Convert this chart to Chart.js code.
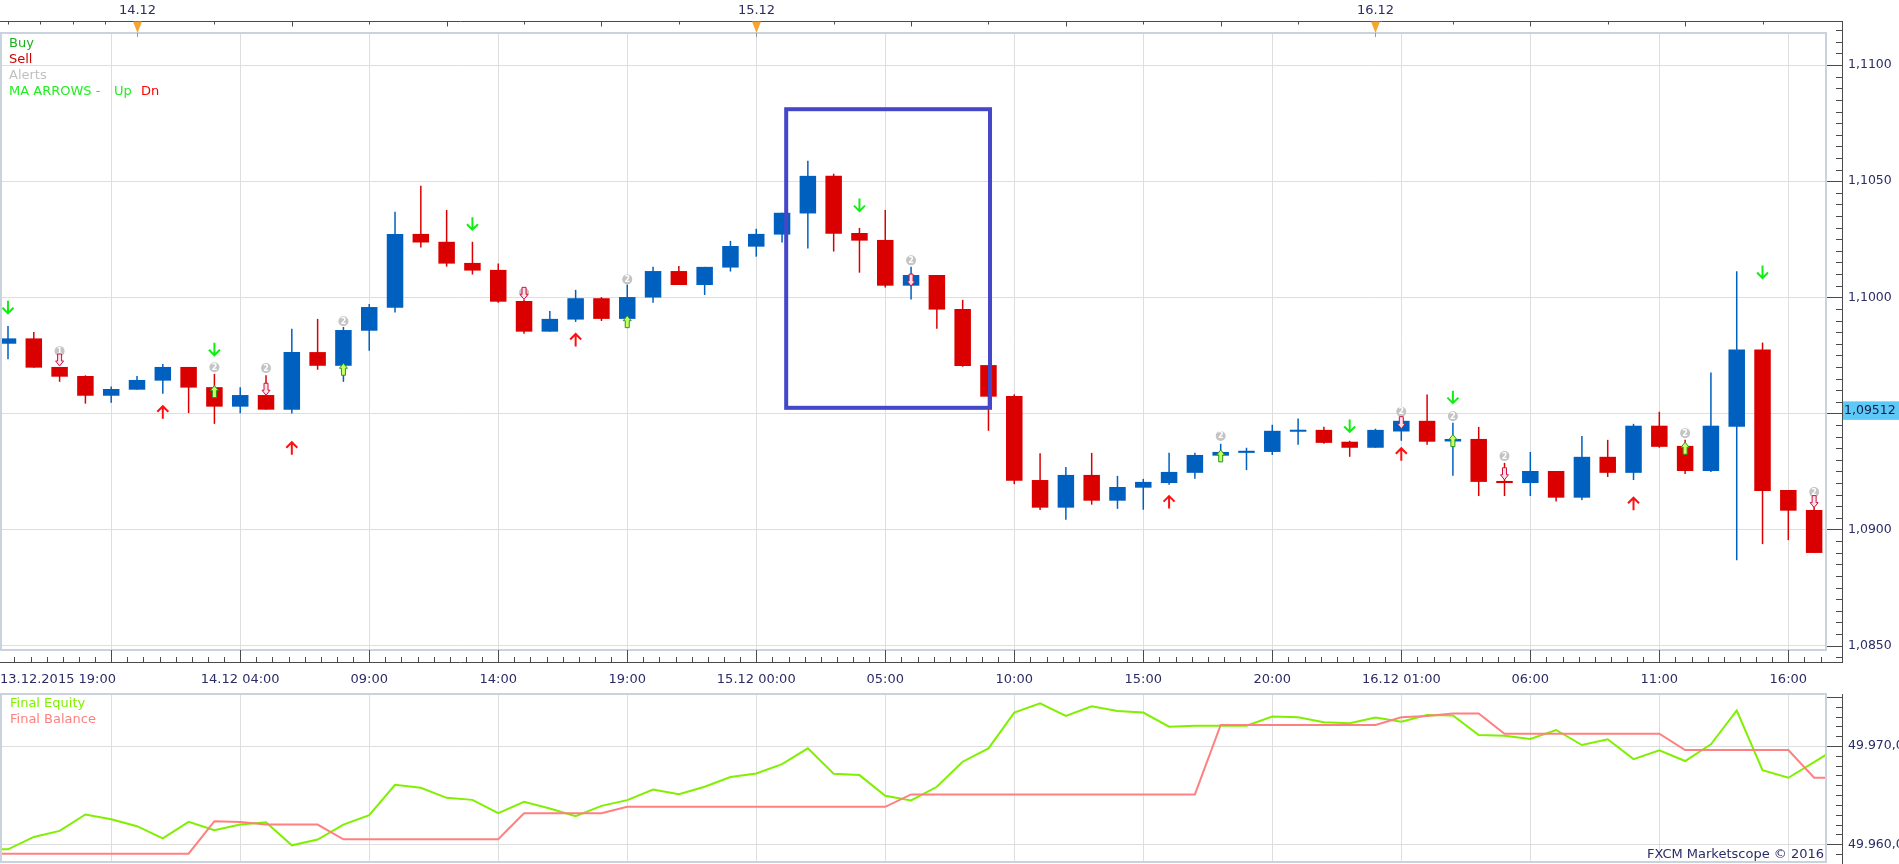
<!DOCTYPE html>
<html>
<head>
<meta charset="utf-8">
<title>EUR/USD H1 - MA ARROWS</title>
<script src="https://cdn.jsdelivr.net/npm/chart.js@4.4.1/dist/chart.umd.min.js"></script>
<style>
  html, body { margin: 0; padding: 0; background: #fff; overflow: hidden; }
  #wrap { position: relative; width: 1899px; height: 864px; font-family: 'DejaVu Sans', sans-serif; }
  #price-chart { position: absolute; left: 0; top: 0; }
  #equity-chart { position: absolute; left: 0; top: 693px; }
  .lbl { position: absolute; font-size: 13px; line-height: 16px; white-space: nowrap; }
</style>
</head>
<body>
<div id="wrap">
  <canvas id="price-chart" width="1899" height="693"></canvas>
  <canvas id="equity-chart" width="1899" height="171"></canvas>
  <div class="lbl" style="left:9px;top:35px;color:#1fae1f">Buy</div>
  <div class="lbl" style="left:9px;top:51px;color:#cc0000">Sell</div>
  <div class="lbl" style="left:9px;top:67px;color:#c0c0c0">Alerts</div>
  <div class="lbl" style="left:9px;top:83px;color:#22ee22">MA ARROWS -</div>
  <div class="lbl" style="left:114px;top:83px;color:#22ee22">Up</div>
  <div class="lbl" style="left:141px;top:83px;color:#ff0000">Dn</div>
  <div class="lbl" style="left:10px;top:695px;color:#80f000">Final Equity</div>
  <div class="lbl" style="left:10px;top:711px;color:#ff8080">Final Balance</div>
  <div class="lbl" style="right:75px;top:846px;color:#2c2c66">FXCM Marketscope &copy; 2016</div>
</div>
<script>
/* EUR/USD hourly candles with MA ARROWS signals, plus equity / balance panel */

// hours are counted from 15.12 00:00; first candle is 13.12.2015 19:00
const CANDLE_START = -29;
const OPEN = [
  1.09800, 1.09823, 1.09700, 1.09661, 1.09576, 1.09602, 1.09641, 1.09700, 1.09613, 1.09529,
  1.09579, 1.09516, 1.09764, 1.09705, 1.09856, 1.09955, 1.10273, 1.10239, 1.10148, 1.10118,
  1.09984, 1.09852, 1.09904, 1.09996, 1.09907, 1.09999, 1.10113, 1.10053, 1.10128, 1.10218,
  1.10270, 1.10361, 1.10523, 1.10277, 1.10247, 1.10050, 1.10096, 1.09950, 1.09708, 1.09575,
  1.09213, 1.09094, 1.09235, 1.09124, 1.09180, 1.09200, 1.09244, 1.09318, 1.09330, 1.09334,
  1.09421, 1.09429, 1.09378, 1.09352, 1.09422, 1.09468, 1.09379, 1.09390, 1.09209, 1.09200,
  1.09252, 1.09137, 1.09313, 1.09244, 1.09447, 1.09360, 1.09252, 1.09442, 1.09775, 1.09170,
  1.09084
];
const HIGH = [
  1.09876, 1.09851, 1.09700, 1.09664, 1.09616, 1.09661, 1.09713, 1.09700, 1.09670, 1.09613,
  1.09664, 1.09864, 1.09907, 1.09872, 1.09971, 1.10368, 1.10480, 1.10376, 1.10239, 1.10145,
  1.09991, 1.09941, 1.10032, 1.10001, 1.10055, 1.10131, 1.10135, 1.10131, 1.10243, 1.10295,
  1.10364, 1.10588, 1.10532, 1.10299, 1.10376, 1.10131, 1.10096, 1.09989, 1.09708, 1.09582,
  1.09328, 1.09269, 1.09330, 1.09231, 1.09218, 1.09330, 1.09330, 1.09369, 1.09352, 1.09451,
  1.09478, 1.09442, 1.09382, 1.09434, 1.09468, 1.09581, 1.09460, 1.09442, 1.09287, 1.09334,
  1.09252, 1.09403, 1.09386, 1.09455, 1.09507, 1.09386, 1.09676, 1.10112, 1.09805, 1.09170,
  1.09130
];
const LOW = [
  1.09733, 1.09697, 1.09636, 1.09542, 1.09546, 1.09602, 1.09585, 1.09501, 1.09455, 1.09501,
  1.09516, 1.09499, 1.09688, 1.09636, 1.09770, 1.09934, 1.10214, 1.10132, 1.10098, 1.09977,
  1.09843, 1.09852, 1.09894, 1.09898, 1.09907, 1.09977, 1.10053, 1.10010, 1.10111, 1.10175,
  1.10236, 1.10210, 1.10197, 1.10106, 1.10042, 1.09990, 1.09865, 1.09701, 1.09425, 1.09195,
  1.09084, 1.09042, 1.09107, 1.09089, 1.09085, 1.09193, 1.09218, 1.09312, 1.09256, 1.09321,
  1.09365, 1.09369, 1.09313, 1.09352, 1.09382, 1.09365, 1.09231, 1.09144, 1.09144, 1.09144,
  1.09120, 1.09127, 1.09226, 1.09213, 1.09352, 1.09239, 1.09248, 1.08867, 1.08937, 1.08954,
  1.08899
];
const CLOSE = [
  1.09823, 1.09697, 1.09658, 1.09576, 1.09605, 1.09644, 1.09700, 1.09611, 1.09529, 1.09579,
  1.09516, 1.09764, 1.09705, 1.09859, 1.09958, 1.10273, 1.10236, 1.10145, 1.10115, 1.09981,
  1.09852, 1.09907, 1.09996, 1.09907, 1.10001, 1.10113, 1.10053, 1.10131, 1.10221, 1.10273,
  1.10364, 1.10523, 1.10274, 1.10244, 1.10050, 1.10096, 1.09947, 1.09704, 1.09572, 1.09210,
  1.09094, 1.09235, 1.09124, 1.09183, 1.09205, 1.09248, 1.09321, 1.09334, 1.09339, 1.09425,
  1.09429, 1.09373, 1.09352, 1.09429, 1.09468, 1.09378, 1.09390, 1.09205, 1.09200, 1.09252,
  1.09137, 1.09313, 1.09244, 1.09447, 1.09356, 1.09252, 1.09447, 1.09775, 1.09166, 1.09081,
  1.08899
];
const LAST_PRICE = 1.09512;

// equity panel runs one hour past each end of the candles (clipped at the frame)
const EQ_START = -30;
const EQUITY = [
  49959.49, 49959.49, 49960.75, 49961.36, 49963.03, 49962.55, 49961.84, 49960.61, 49962.28, 49961.43,
  49962.01, 49962.24, 49959.90, 49960.48, 49962.01, 49962.96, 49966.05, 49965.75, 49964.73, 49964.52,
  49963.16, 49964.32, 49963.64, 49962.86, 49963.91, 49964.49, 49965.58, 49965.10, 49965.85, 49966.84,
  49967.21, 49968.16, 49969.76, 49967.18, 49967.04, 49964.93, 49964.46, 49965.85, 49968.40, 49969.76,
  49973.40, 49974.35, 49973.06, 49974.05, 49973.57, 49973.40, 49971.97, 49972.07, 49972.07, 49972.07,
  49972.99, 49972.93, 49972.41, 49972.31, 49972.89, 49972.48, 49973.16, 49973.10, 49971.12, 49971.05,
  49970.71, 49971.63, 49970.10, 49970.68, 49968.67, 49969.56, 49968.47, 49970.17, 49973.61, 49967.55,
  49966.77, 49968.36, 49970.00
];
const BALANCE = [
  49959.05, 49959.05, 49959.05, 49959.05, 49959.05, 49959.05, 49959.05, 49959.05, 49959.05, 49962.35,
  49962.28, 49962.01, 49962.01, 49962.01, 49960.51, 49960.51, 49960.51, 49960.51, 49960.51, 49960.51,
  49960.51, 49963.16, 49963.16, 49963.16, 49963.16, 49963.81, 49963.81, 49963.81, 49963.81, 49963.81,
  49963.81, 49963.81, 49963.81, 49963.81, 49963.81, 49963.81, 49965.07, 49965.07, 49965.07, 49965.07,
  49965.07, 49965.07, 49965.07, 49965.07, 49965.07, 49965.07, 49965.07, 49965.07, 49972.14, 49972.14,
  49972.14, 49972.14, 49972.14, 49972.14, 49972.14, 49972.93, 49973.06, 49973.30, 49973.30, 49971.25,
  49971.25, 49971.25, 49971.25, 49971.25, 49971.25, 49971.25, 49969.59, 49969.59, 49969.59, 49969.59,
  49969.59, 49966.77, 49966.77
];

// MA ARROWS signals: hour, price
const DN_HOURS = [-29, -21, -11, 4, 23, 27, 39];
const DN_PRICES = [1.09957, 1.09776, 1.10317, 1.10397, 1.09446, 1.09570, 1.10109];
const UP_HOURS = [-23, -18, -7, 16, 25, 34];
const UP_PRICES = [1.09505, 1.09350, 1.09816, 1.09118, 1.09324, 1.09111];

// alerts: numbered circle plus a small hollow arrow (1 = up, -1 = down)
const ALERT_HOURS = [-27, -21, -19, -16, -9, -5, 6, 18, 25, 27, 29, 36, 41];
const ALERT_TEXT = ['1', '2', '2', '2', '2', '2', '2', '2', '2', '2', '2', '2', '2'];
const ALERT_PRICES = [1.09768, 1.09699, 1.09695, 1.09897, 1.10020, 1.10077, 1.10159, 1.09403, 1.09507, 1.09488, 1.09316, 1.09415, 1.09161];
const ALERT_DIRS = [-1, 1, -1, 1, -1, 1, -1, 1, -1, 1, -1, 1, -1];
const ALERT_ARROW_PRICES = [1.09730, 1.09594, 1.09604, 1.09690, 1.10017, 1.09895, 1.10074, 1.09317, 1.09460, 1.09383, 1.09240, 1.09350, 1.09120];

// hand-drawn box around the 15.12 morning sell-off
const BOX_HOURS = [1.16, 9.06];
const BOX_PRICES = [1.10810, 1.09524];

// axes
const X_MIN = -29.31, X_MAX = 41.46;
const TICK_HOURS = [X_MIN, -25, -20, -15, -10, -5, 0, 5, 10, 15, 20, 25, 30, 35, 40, X_MAX];
const TICK_LABELS = ['13.12.2015 19:00', '', '14.12 04:00', '09:00', '14:00', '19:00', '15.12 00:00',
  '05:00', '10:00', '15:00', '20:00', '16.12 01:00', '06:00', '11:00', '16:00', ''];
const TOP_TICK_HOURS = [-29, -27.75, -26.5, -25.25, -24, -21, -18, -15, -12, -9, -6, -3, 0, 3, 6, 9,
  12, 15, 18, 21, 24, 27, 30, 33, 36, 39];
const DAY_HOURS = [-24, 0, 24];
const DAY_LABELS = ['14.12', '15.12', '16.12'];
const PRICE_MIN = 1.084810, PRICE_MAX = 1.111382;
const PRICE_TICKS = [1.085, 1.09, 1.095, 1.1, 1.105, 1.11];
const EQ_MIN = 49958.20, EQ_MAX = 49975.29;
const EQ_TICKS = [49960, 49970];

const BLUE = '#0060bf', RED = '#db0000';
const GRID = '#dedede', FRAME = '#c9d3de', AXIS = '#4a4a4a';
const TEXT_COLOR = '#2c2c66';
const EQUITY_COLOR = '#80f000', BALANCE_COLOR = '#ff8080';
const AXIS_X = 1842;
const FONT = '"DejaVu Sans", sans-serif';

function hideBoundGrid(ctx) {
  var v = ctx.tick ? ctx.tick.value : null;
  return (v === X_MIN || v === X_MAX) ? 'rgba(0,0,0,0)' : GRID;
}

// the layout must not add label padding: chart area is pinned by these sizes
function fixHeight(h) {
  return function(s) { s.height = h; s.paddingLeft = 0; s.paddingRight = 0; };
}
function fixWidth(w) {
  return function(s) { s.width = w; s.paddingTop = 0; s.paddingBottom = 0; };
}

function line(c, x1, y1, x2, y2) {
  c.beginPath(); c.moveTo(x1, y1); c.lineTo(x2, y2); c.stroke();
}

function drawFrame(c, a) {
  c.strokeStyle = FRAME; c.lineWidth = 2;
  c.strokeRect(a.left + 1, a.top, a.right - a.left - 1, a.bottom - a.top);
}

function drawDownArrow(c, x, y) {
  c.strokeStyle = '#11ee11'; c.lineWidth = 2;
  c.beginPath();
  c.moveTo(x, y - 6.5); c.lineTo(x, y + 6);
  c.moveTo(x - 5.5, y + 0.5); c.lineTo(x, y + 6); c.lineTo(x + 5.5, y + 0.5);
  c.stroke();
}

function drawUpArrow(c, x, y) {
  c.strokeStyle = '#ff1010'; c.lineWidth = 2;
  c.beginPath();
  c.moveTo(x, y + 6.5); c.lineTo(x, y - 6);
  c.moveTo(x - 5.5, y - 0.5); c.lineTo(x, y - 6); c.lineTo(x + 5.5, y - 0.5);
  c.stroke();
}

function drawHollowArrow(c, x, y, dir) {
  var s = dir; // 1 points up, -1 points down
  c.beginPath();
  c.moveTo(x - 2, y + 6 * s); c.lineTo(x + 2, y + 6 * s);
  c.lineTo(x + 2, y - 1 * s); c.lineTo(x + 4, y - 1 * s);
  c.lineTo(x, y - 6 * s); c.lineTo(x - 4, y - 1 * s);
  c.lineTo(x - 2, y - 1 * s); c.closePath();
  c.fillStyle = dir > 0 ? '#ccff66' : '#ffe0e8';
  c.strokeStyle = dir > 0 ? '#229922' : '#cc1040';
  c.lineWidth = 1;
  c.fill(); c.stroke();
}

function drawAlert(c, x, y, txt) {
  c.fillStyle = '#c4c4c4';
  c.beginPath(); c.arc(x, y, 5, 0, Math.PI * 2); c.fill();
  c.fillStyle = '#ffffff';
  c.font = 'bold 8px ' + FONT;
  c.textAlign = 'center'; c.textBaseline = 'middle';
  c.fillText(txt, x, y + 0.5);
}

function drawSignals(c, xs, ys) {
  DN_HOURS.forEach(function(h, i) { drawDownArrow(c, xs.getPixelForValue(h), ys.getPixelForValue(DN_PRICES[i])); });
  UP_HOURS.forEach(function(h, i) { drawUpArrow(c, xs.getPixelForValue(h), ys.getPixelForValue(UP_PRICES[i])); });
  ALERT_HOURS.forEach(function(h, i) {
    var x = xs.getPixelForValue(h);
    drawAlert(c, x, ys.getPixelForValue(ALERT_PRICES[i]), ALERT_TEXT[i]);
    drawHollowArrow(c, x, ys.getPixelForValue(ALERT_ARROW_PRICES[i]), ALERT_DIRS[i]);
  });
}

function drawBox(c, xs, ys) {
  var x0 = xs.getPixelForValue(BOX_HOURS[0]), x1 = xs.getPixelForValue(BOX_HOURS[1]);
  var y0 = ys.getPixelForValue(BOX_PRICES[0]), y1 = ys.getPixelForValue(BOX_PRICES[1]);
  c.strokeStyle = '#4347c8'; c.lineWidth = 4;
  c.strokeRect(x0, y0, x1 - x0, y1 - y0);
}

function drawTimeBands(c, xs, a) {
  c.strokeStyle = AXIS; c.lineWidth = 1;
  // top date band
  line(c, 0, 21.5, AXIS_X, 21.5);
  TOP_TICK_HOURS.forEach(function(h) {
    var x = Math.round(xs.getPixelForValue(h)) + 0.5;
    line(c, x, 21.5, x, 21.5 + (h % 6 === 0 ? 5 : 3));
  });
  c.font = '13px ' + FONT; c.textAlign = 'center'; c.textBaseline = 'middle';
  DAY_HOURS.forEach(function(h, i) {
    var x = Math.round(xs.getPixelForValue(h)) + 0.5;
    c.fillStyle = TEXT_COLOR;
    c.fillText(DAY_LABELS[i], x, 10.5);
    c.fillStyle = '#f7a531';
    c.beginPath(); c.moveTo(x - 4.5, 21.5); c.lineTo(x + 4.5, 21.5); c.lineTo(x, 33); c.closePath(); c.fill();
    c.strokeStyle = '#999999';
    line(c, x, 33, x, 37);
  });
  // bottom time band
  c.strokeStyle = AXIS;
  line(c, 0, 662.5, AXIS_X, 662.5);
  for (var k = 0; k <= 120; k++) {
    var h = -30 + k * 0.625;
    var x = Math.round(xs.getPixelForValue(h)) + 0.5;
    if (x < 0 || x > a.right) continue;
    line(c, x, (k % 8 === 0) ? a.bottom : 657, x, 662.5);
  }
}

function drawPriceAxis(c, ys) {
  c.strokeStyle = AXIS; c.lineWidth = 1;
  line(c, AXIS_X + 0.5, 21, AXIS_X + 0.5, 663);
  for (var k = 2169; k <= 2223; k++) {
    var y = Math.round(ys.getPixelForValue(k * 0.0005)) + 0.5;
    line(c, (k % 10 === 0) ? 1827 : 1836, y, AXIS_X, y);
  }
  var py = ys.getPixelForValue(LAST_PRICE);
  c.fillStyle = '#5dc9f7';
  c.fillRect(AXIS_X + 1, py - 9.25, 1899 - AXIS_X, 18.5);
  c.fillStyle = '#1b1b4b';
  c.font = '12.5px ' + FONT; c.textAlign = 'left'; c.textBaseline = 'middle';
  c.fillText(LAST_PRICE.toFixed(5).replace('.', ','), AXIS_X + 2, py + 0.5);
}

var priceDecor = {
  id: 'priceDecor',
  afterDatasetsDraw: function(chart) {
    var c = chart.ctx, xs = chart.scales.x, ys = chart.scales.y;
    c.save();
    drawSignals(c, xs, ys);
    drawBox(c, xs, ys);
    c.restore();
  },
  afterDraw: function(chart) {
    var c = chart.ctx;
    c.save();
    drawFrame(c, chart.chartArea);
    drawTimeBands(c, chart.scales.x, chart.chartArea);
    drawPriceAxis(c, chart.scales.y);
    c.restore();
  }
};

var equityDecor = {
  id: 'equityDecor',
  afterDraw: function(chart) {
    var c = chart.ctx, ys = chart.scales.y;
    c.save();
    drawFrame(c, chart.chartArea);
    c.strokeStyle = AXIS; c.lineWidth = 1;
    line(c, AXIS_X + 0.5, 1, AXIS_X + 0.5, 171);
    for (var v = 49959; v <= 49975; v++) {
      var y = Math.round(ys.getPixelForValue(v)) + 0.5;
      line(c, (v % 10 === 0 || v === 49975) ? 1827 : 1836, y, AXIS_X, y);
    }
    c.restore();
  }
};

function candleColors() {
  return OPEN.map(function(o, i) { return CLOSE[i] >= o ? BLUE : RED; });
}

function renderPrice() {
  var colors = candleColors();
  var wicks = LOW.map(function(l, i) { return { x: CANDLE_START + i, y: [l, HIGH[i]] }; });
  var bodies = OPEN.map(function(o, i) { return { x: CANDLE_START + i, y: [o, CLOSE[i]] }; });
  new Chart(document.getElementById('price-chart'), {
    type: 'bar',
    data: {
      datasets: [{
        label: 'wick', data: wicks, backgroundColor: colors,
        barThickness: 1.5, grouped: false, borderWidth: 0, inflateAmount: 0
      }, {
        label: 'EUR/USD', data: bodies, backgroundColor: colors,
        barThickness: 16.5, grouped: false, borderWidth: 0, inflateAmount: 0, minBarLength: 2
      }]
    },
    options: {
      responsive: false, animation: false,
      layout: { padding: { top: 33, left: 0, right: 0, bottom: 0 } },
      plugins: { legend: { display: false }, tooltip: { enabled: false } },
      scales: {
        x: {
          type: 'linear', min: X_MIN, max: X_MAX, offset: false,
          afterBuildTicks: function(s) { s.ticks = TICK_HOURS.map(function(v) { return { value: v }; }); },
          afterFit: fixHeight(43),
          grid: { color: hideBoundGrid, drawTicks: false, offset: false },
          border: { display: false },
          ticks: {
            autoSkip: false, maxRotation: 0, align: 'inner', padding: 22,
            color: TEXT_COLOR, font: { family: 'DejaVu Sans', size: 13 },
            callback: function(v, i) { return TICK_LABELS[i]; }
          }
        },
        y: {
          position: 'right', min: PRICE_MIN, max: PRICE_MAX,
          afterBuildTicks: function(s) { s.ticks = PRICE_TICKS.map(function(v) { return { value: v }; }); },
          afterFit: fixWidth(73),
          grid: { color: GRID, drawTicks: false },
          border: { display: false },
          ticks: {
            padding: 22, color: TEXT_COLOR, font: { family: 'DejaVu Sans', size: 12.5 },
            callback: function(v) { return v.toFixed(4).replace('.', ','); }
          }
        }
      }
    },
    plugins: [priceDecor]
  });
}

function renderEquity() {
  var eq = EQUITY.map(function(v, i) { return { x: EQ_START + i, y: v }; });
  var bal = BALANCE.map(function(v, i) { return { x: EQ_START + i, y: v }; });
  new Chart(document.getElementById('equity-chart'), {
    type: 'line',
    data: {
      datasets: [{
        label: 'Final Balance', data: bal, borderColor: BALANCE_COLOR,
        borderWidth: 2, pointRadius: 0, tension: 0
      }, {
        label: 'Final Equity', data: eq, borderColor: EQUITY_COLOR,
        borderWidth: 2, pointRadius: 0, tension: 0
      }]
    },
    options: {
      responsive: false, animation: false,
      layout: { padding: { top: 1, left: 0, right: 0, bottom: 0 } },
      plugins: { legend: { display: false }, tooltip: { enabled: false } },
      scales: {
        x: {
          type: 'linear', min: X_MIN, max: X_MAX,
          afterBuildTicks: function(s) { s.ticks = TICK_HOURS.map(function(v) { return { value: v }; }); },
          afterFit: fixHeight(2),
          grid: { color: hideBoundGrid, drawTicks: false },
          border: { display: false },
          ticks: { display: false }
        },
        y: {
          position: 'right', min: EQ_MIN, max: EQ_MAX,
          afterBuildTicks: function(s) { s.ticks = EQ_TICKS.map(function(v) { return { value: v }; }); },
          afterFit: fixWidth(73),
          grid: { color: GRID, drawTicks: false },
          border: { display: false },
          ticks: {
            padding: 22, color: TEXT_COLOR, font: { family: 'DejaVu Sans', size: 12.5 },
            callback: function(v) { return (v / 1000).toFixed(3) + ',0'; }
          }
        }
      }
    },
    plugins: [equityDecor]
  });
}

renderPrice();
renderEquity();
</script>
</body>
</html>
